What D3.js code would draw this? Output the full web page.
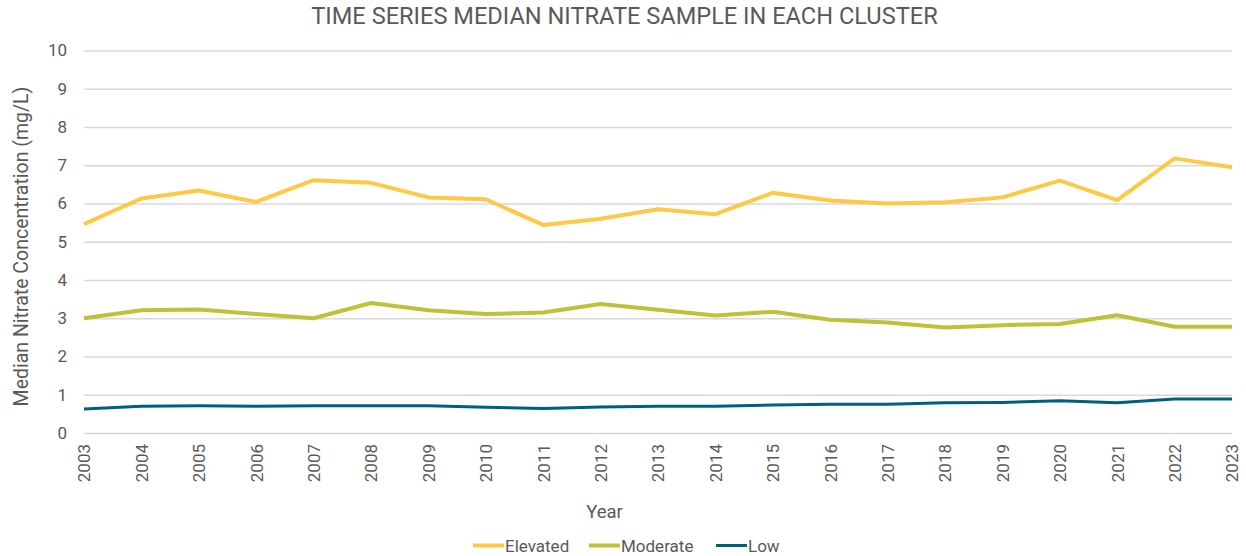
<!DOCTYPE html>
<html><head><meta charset="utf-8">
<script src="https://cdn.jsdelivr.net/npm/d3@7"></script>
<style>body{margin:0;background:#fff;} text{font-family:Roboto,"Noto Sans",sans-serif;}</style>
</head><body><svg id="c" width="1246" height="556"></svg>
<script>
const years = [2003,2004,2005,2006,2007,2008,2009,2010,2011,2012,2013,2014,2015,2016,2017,2018,2019,2020,2021,2022,2023];
const elevated = [5.46,6.13,6.34,6.04,6.61,6.54,6.16,6.11,5.44,5.60,5.85,5.72,6.28,6.08,6.00,6.03,6.16,6.60,6.09,7.18,6.95];
const moderate = [3.00,3.21,3.23,3.11,3.00,3.40,3.21,3.11,3.15,3.37,3.22,3.07,3.17,2.96,2.89,2.76,2.82,2.85,3.08,2.78,2.78];
const low = [0.63,0.70,0.71,0.70,0.71,0.71,0.71,0.67,0.64,0.68,0.70,0.70,0.73,0.75,0.75,0.79,0.80,0.84,0.79,0.89,0.89];
const yTicks = [0,1,2,3,4,5,6,7,8,9,10];
const seriesNames = ["Elevated","Moderate","Low"];
const seriesColors = ["#FFC845","#BDC239","#005F7F"];
const seriesWidths = [4,4,3];

const svg = d3.select("#c");
const x = d3.scalePoint().domain(years).range([84,1232]);
const y = d3.scaleLinear().domain([0,10]).range([433,50.5]);
const grey = "#595959";

svg.append("text").attr("x",624.5).attr("y",24).attr("text-anchor","middle")
  .attr("font-size",23.6).attr("fill",grey).text("TIME SERIES MEDIAN NITRATE SAMPLE IN EACH CLUSTER");

// grid
const yAxis = d3.axisLeft(y).tickValues(yTicks).tickSize(-(1232-84)).tickFormat(d3.format("d"));
const gy = svg.append("g").attr("transform","translate(84,0)").call(yAxis);
gy.select(".domain").remove();
gy.selectAll(".tick line").attr("stroke","#D9D9D9").attr("stroke-width",1.3);
gy.selectAll(".tick text").attr("fill",grey).attr("font-size",17).attr("x",-17).style("font-family","Roboto");

// x axis
const xAxis = d3.axisBottom(x).tickSize(0);
const gx = svg.append("g").attr("transform","translate(0,433)").call(xAxis);
gx.select(".domain").remove();
gx.selectAll(".tick text").attr("fill",grey).attr("font-size",17).style("font-family","Roboto")
  .attr("transform","rotate(-90)").attr("text-anchor","end").attr("x",-11).attr("y",0).attr("dy","0.35em");

// axis titles
svg.append("text").attr("transform","translate(28,246.5) rotate(-90)").attr("text-anchor","middle")
  .attr("font-size",19.5).attr("fill",grey).text("Median Nitrate Concentration (mg/L)");
svg.append("text").attr("x",604.5).attr("y",517.5).attr("text-anchor","middle")
  .attr("font-size",18.5).attr("fill",grey).text("Year");

// lines
const data = [elevated, moderate, low];
const line = d3.line().x((d,i)=>x(years[i])).y(d=>y(d));
data.forEach((s,k)=>{
  svg.append("path").datum(s).attr("d",line).attr("fill","none")
    .attr("stroke",seriesColors[k]).attr("stroke-width",seriesWidths[k]).attr("stroke-linejoin","round");
});

// legend
const legX = [473,589,716];
seriesNames.forEach((n,k)=>{
  svg.append("line").attr("x1",legX[k]).attr("x2",legX[k]+31).attr("y1",545.5).attr("y2",545.5)
    .attr("stroke",seriesColors[k]).attr("stroke-width",seriesWidths[k]);
  svg.append("text").attr("x",legX[k]+32).attr("y",551.5).attr("font-size",17).attr("fill",grey).text(n);
});
</script></body></html>
